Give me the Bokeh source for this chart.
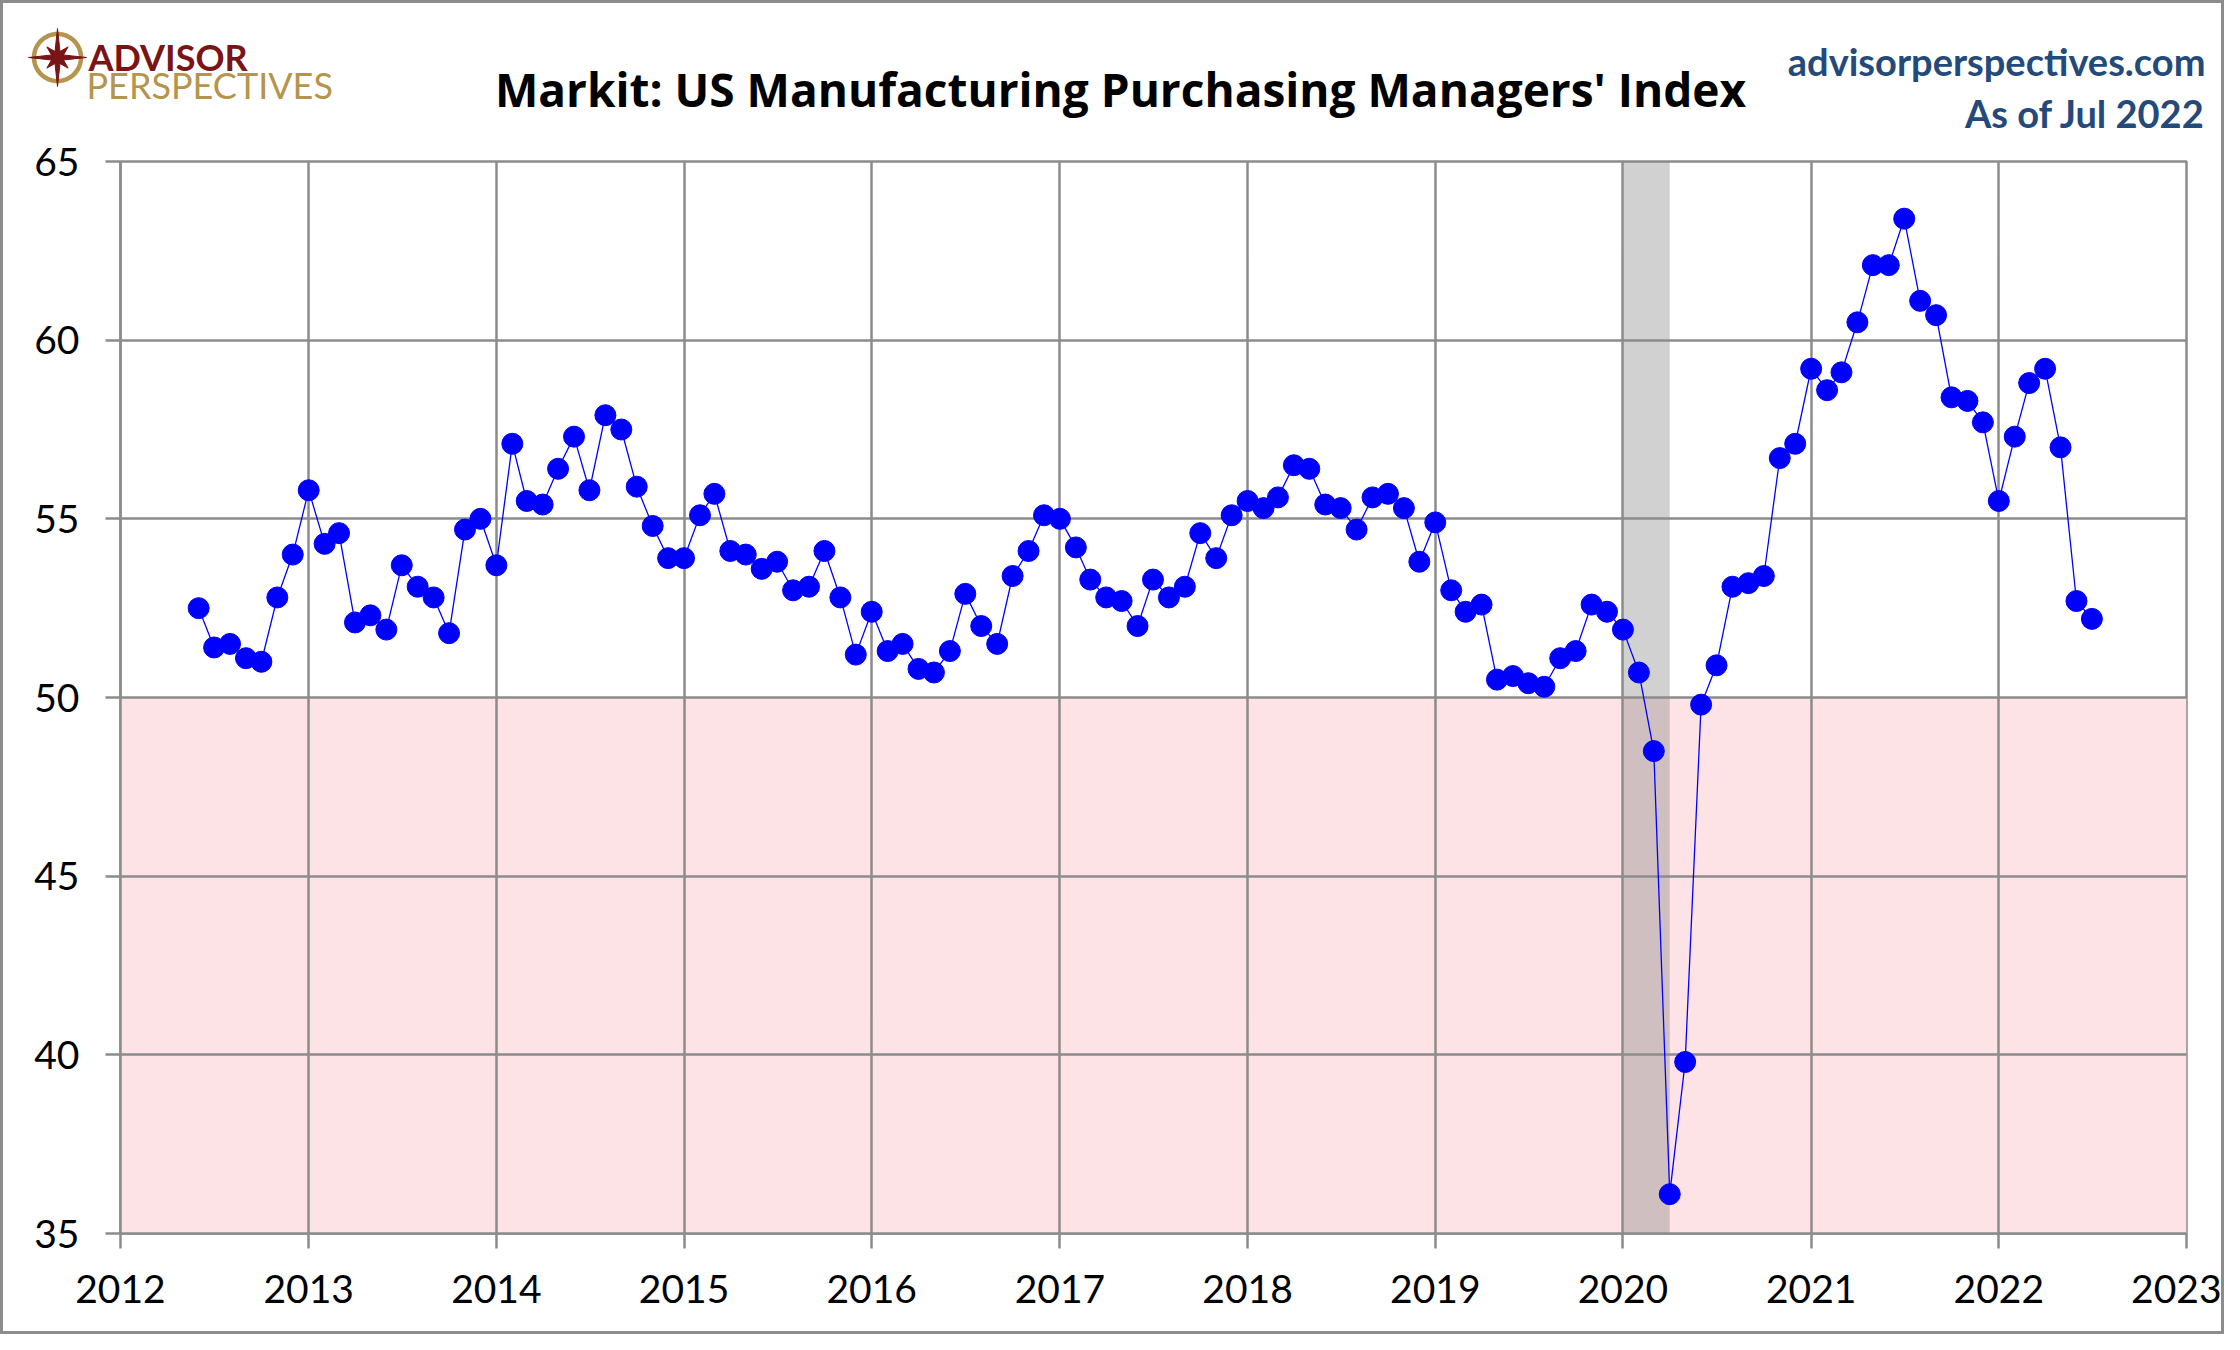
from datetime import datetime
import math

import pandas as pd
from bokeh.plotting import figure
from bokeh.layouts import column
from bokeh.core.properties import value
from bokeh.models import Range1d, FixedTicker, DatetimeTickFormatter, BoxAnnotation
from bokeh.embed import file_html
from bokeh.resources import INLINE

# Markit US Manufacturing PMI, monthly, Jun 2012 .. Jul 2022
start_month = "2012-06-01"
pmi_2012 = [52.5, 51.4, 51.5, 51.1, 51.0, 52.8, 54.0]
pmi_2013 = [55.8, 54.3, 54.6, 52.1, 52.3, 51.9, 53.7, 53.1, 52.8, 51.8, 54.7, 55.0]
pmi_2014 = [53.7, 57.1, 55.5, 55.4, 56.4, 57.3, 55.8, 57.9, 57.5, 55.9, 54.8, 53.9]
pmi_2015 = [53.9, 55.1, 55.7, 54.1, 54.0, 53.6, 53.8, 53.0, 53.1, 54.1, 52.8, 51.2]
pmi_2016 = [52.4, 51.3, 51.5, 50.8, 50.7, 51.3, 52.9, 52.0, 51.5, 53.4, 54.1, 55.1]
pmi_2017 = [55.0, 54.2, 53.3, 52.8, 52.7, 52.0, 53.3, 52.8, 53.1, 54.6, 53.9, 55.1]
pmi_2018 = [55.5, 55.3, 55.6, 56.5, 56.4, 55.4, 55.3, 54.7, 55.6, 55.7, 55.3, 53.8]
pmi_2019 = [54.9, 53.0, 52.4, 52.6, 50.5, 50.6, 50.4, 50.3, 51.1, 51.3, 52.6, 52.4]
pmi_2020 = [51.9, 50.7, 48.5, 36.1, 39.8, 49.8, 50.9, 53.1, 53.2, 53.4, 56.7, 57.1]
pmi_2021 = [59.2, 58.6, 59.1, 60.5, 62.1, 62.1, 63.4, 61.1, 60.7, 58.4, 58.3, 57.7]
pmi_2022 = [55.5, 57.3, 58.8, 59.2, 57.0, 52.7, 52.2]

pmi = (pmi_2012 + pmi_2013 + pmi_2014 + pmi_2015 + pmi_2016 + pmi_2017 +
       pmi_2018 + pmi_2019 + pmi_2020 + pmi_2021 + pmi_2022)
dates = pd.date_range(start_month, periods=len(pmi), freq="MS")

years = list(range(2012, 2024))
y_ticks = [35, 40, 45, 50, 55, 60, 65]
contraction_level = 50
recession = (datetime(2020, 1, 1), datetime(2020, 4, 1))

title_text = "Markit: US Manufacturing Purchasing Managers' Index"
site_text = "advisorperspectives.com"
asof_text = "As of Jul 2022"
logo_top = "ADVISOR"
logo_bottom = "PERSPECTIVES"

B = 3                      # css border width
W, H = 2218, 1328          # inside the border
HEAD = 132                 # header strip height
LEFT, TOP, RIGHT, BOTTOM = 120, 161, 2186, 1233   # plot frame in reference pixels
GRID = "#8C8C8C"
FONT = "Lato"
BLUE_TXT = "#24497B"
RED = "#7A1416"
GOLD = "#B5954B"


def ms(d):
    return pd.Timestamp(d).value / 1e6


# ---- header strip. The column lines its frame up with the chart's frame,
# so the ranges are set to give data units == reference pixels.
head = figure(width=W, height=HEAD, output_backend="svg", toolbar_location=None,
              x_range=Range1d(LEFT, RIGHT), y_range=Range1d(B + HEAD, B),
              x_axis_location=None, y_axis_location=None,
              min_border_left=LEFT - B, min_border_right=B + W - RIGHT,
              min_border_top=0, min_border_bottom=0)
head.grid.visible = False
head.outline_line_color = None
head.background_fill_color = "white"
head.border_fill_color = "white"

header_parts = [
    head.text(x=[1120], y=[88], text=[title_text], text_font=value("Open Sans"),
              text_font_style="bold", text_font_size="46px", text_color="black",
              text_align="center", text_baseline="alphabetic"),
    head.text(x=[2205, 2205], y=[60, 112], text=[site_text, asof_text], text_font=value(FONT),
              text_font_style="bold", text_font_size="38px", text_color=BLUE_TXT,
              text_align="right", text_baseline="alphabetic"),
    head.text(x=[88], y=[56], text=[logo_top], text_font=value(FONT), text_font_style="bold",
              text_font_size="36px", text_color=RED, text_baseline="alphabetic"),
    head.text(x=[86], y=[84], text=[logo_bottom], text_font=value(FONT), text_font_size="36px",
              text_color=GOLD, text_baseline="alphabetic"),
]

# compass mark of the logo (ring + eight-point star)
cx, cy = 57, 57
ring_x = [cx + 23.5 * math.cos(2 * math.pi * k / 72) for k in range(73)]
ring_y = [cy + 23.5 * math.sin(2 * math.pi * k / 72) for k in range(73)]
header_parts.append(head.line(ring_x, ring_y, line_color=GOLD, line_width=4.5))
star_x, star_y = [], []
for k in range(16):
    ang = math.pi / 2 + k * math.pi / 8
    r = 29 if k % 4 == 0 else (15 if k % 2 == 0 else 6.5)
    star_x.append(cx + r * math.cos(ang))
    star_y.append(cy - r * math.sin(ang))
header_parts.append(head.patch(star_x, star_y, fill_color=RED, line_color=RED, line_width=1))
for r in header_parts:
    r.level = "overlay"   # not clipped to the frame

# ---- main chart
MAIN_H = H - HEAD
p = figure(width=W, height=MAIN_H, output_backend="svg", toolbar_location=None,
           x_axis_type="datetime",
           x_range=Range1d(ms(datetime(years[0], 1, 1)), ms(datetime(years[-1], 1, 1))),
           y_range=Range1d(y_ticks[0], y_ticks[-1]),
           min_border_left=LEFT - B, min_border_right=B + W - RIGHT,
           min_border_top=TOP - B - HEAD, min_border_bottom=B + H - BOTTOM)
p.background_fill_color = "white"
p.border_fill_color = "white"
p.outline_line_color = GRID
p.outline_line_width = 2.5

# shaded zones under the grid
p.add_layout(BoxAnnotation(top=contraction_level, fill_color="#FDE3E5", fill_alpha=1,
                           line_alpha=0, level="image"))
p.add_layout(BoxAnnotation(left=ms(recession[0]), right=ms(recession[1]),
                           fill_color="#808080", fill_alpha=0.36, line_alpha=0, level="image"))

p.line(dates, pmi, line_color="#0000FF", line_width=1.3)
p.scatter(dates, pmi, size=21, fill_color="#0000FF", line_color="#0000FF")

p.xaxis.ticker = FixedTicker(ticks=[ms(datetime(y, 1, 1)) for y in years])
p.xaxis.formatter = DatetimeTickFormatter(years="%Y", months="%Y", days="%Y", hours="%Y")
p.yaxis.ticker = FixedTicker(ticks=y_ticks)
for ax in (p.xaxis, p.yaxis):
    ax.axis_line_color = GRID
    ax.axis_line_width = 2.5
    ax.major_tick_line_color = GRID
    ax.major_tick_line_width = 2.5
    ax.major_tick_out = 15
    ax.major_tick_in = 0
    ax.minor_tick_line_color = None
    ax.major_label_text_font = FONT
    ax.major_label_text_font_size = "39px"
    ax.major_label_text_color = "black"
    ax.major_label_standoff = 26
p.xgrid.grid_line_color = GRID
p.ygrid.grid_line_color = GRID
p.xgrid.grid_line_width = 2.5
p.ygrid.grid_line_width = 2.5

page = column(head, p, spacing=0, styles={"border": f"{B}px solid {GRID}"})

open("out.html", "w").write(file_html(page, INLINE))
